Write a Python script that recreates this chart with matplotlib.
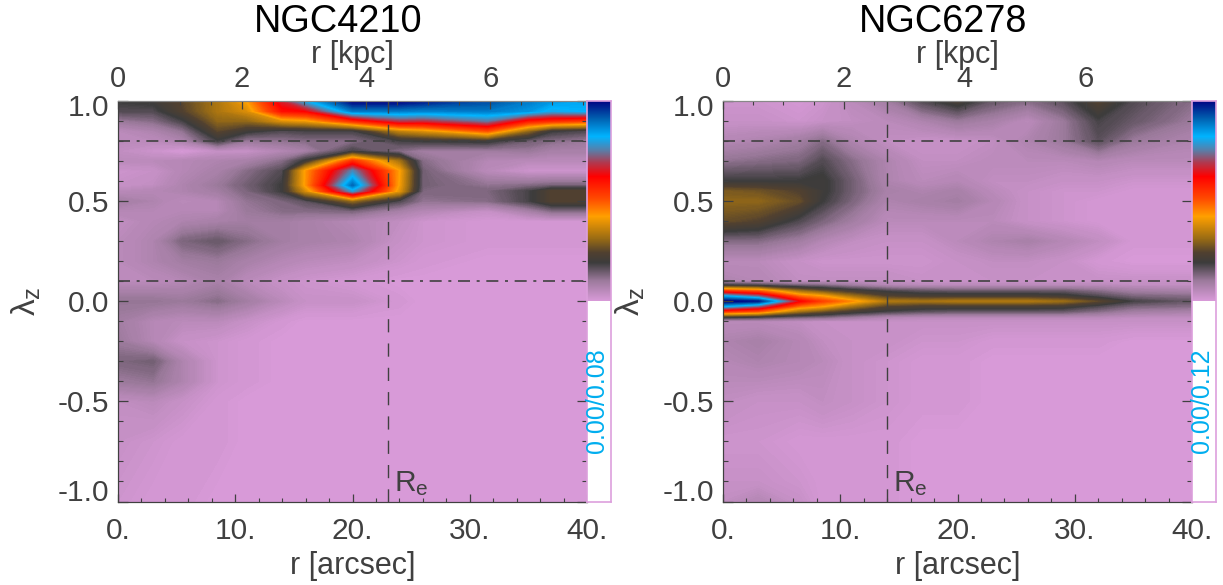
import numpy as np
import matplotlib
matplotlib.use('Agg')
import matplotlib.pyplot as plt
from matplotlib.colors import LinearSegmentedColormap

plt.rcParams['font.family'] = ['Liberation Sans', 'DejaVu Sans']
plt.rcParams['mathtext.fontset'] = 'custom'
plt.rcParams['mathtext.rm'] = 'Liberation Sans'
plt.rcParams['mathtext.it'] = 'Liberation Sans'
plt.rcParams['mathtext.fallback'] = 'stixsans'

titles = ['NGC4210', 'NGC6278']
range_labels = ['0.00/0.08', '0.00/0.12']
re_arcsec = [23.0, 14.0]
kpc_max = [7.56, 7.76]
thin_disk_limit = 0.8
hot_limit = 0.1

left_r = [0, 3, 5.5, 8.5, 11, 14, 16, 20, 24, 26, 31.5, 35, 37, 40]
left_lam = [-1, -.7, -.5, -.4, -.3, -.2, -.1, 0, .1, .2, .3, .4, .45, .5, .55, .58, .65, .7, .75, .8, .85, .9, .95, 1]
left_density = [
    [.02, .01, .01, 0, 0, 0, 0, 0, 0, 0, 0, 0, 0, 0],
    [.03, .02, .01, .01, 0, 0, 0, 0, 0, 0, 0, 0, 0, 0],
    [.04, .05, .03, .01, 0, 0, 0, 0, 0, 0, 0, 0, 0, 0],
    [.10, .11, .07, .02, .01, 0, 0, 0, 0, 0, 0, 0, 0, 0],
    [.13, .14, .07, .02, .01, 0, 0, 0, 0, 0, 0, 0, 0, 0],
    [.10, .06, .03, .02, .01, 0, 0, 0, 0, 0, 0, 0, 0, 0],
    [.09, .06, .05, .05, .03, .01, 0, 0, 0, 0, 0, 0, 0, 0],
    [.11, .11, .10, .12, .09, .05, .03, .03, .01, 0, 0, 0, 0, 0],
    [.05, .05, .06, .08, .05, .03, .02, .01, 0, 0, 0, 0, 0, 0],
    [.05, .07, .09, .10, .08, .06, .05, .04, .02, .01, 0, 0, 0, 0],
    [.05, .07, .13, .15, .12, .09, .08, .07, .03, .02, .01, .01, .01, .01],
    [.04, .06, .07, .08, .09, .09, .08, .06, .04, .02, .01, .01, .01, .01],
    [.06, .06, .06, .06, .10, .12, .12, .13, .08, .06, .03, .08, .12, .12],
    [.09, .07, .05, .06, .11, .13, .16, .30, .17, .11, .12, .18, .24, .24],
    [.05, .06, .07, .09, .13, .19, .37, .78, .39, .13, .13, .18, .24, .24],
    [.03, .04, .07, .10, .14, .19, .43, .90, .41, .14, .11, .12, .13, .13],
    [.02, .03, .06, .08, .12, .17, .43, .76, .42, .14, .05, .02, .02, .02],
    [.05, .05, .06, .07, .08, .12, .20, .55, .32, .12, .06, .05, .05, .05],
    [.04, .02, .00, .03, .03, .06, .08, .18, .12, .09, .09, .10, .08, .08],
    [.05, .05, .07, .18, .10, .11, .12, .12, .18, .19, .20, .14, .12, .10],
    [.05, .07, .11, .25, .20, .17, .18, .18, .35, .38, .50, .30, .19, .17],
    [.10, .12, .18, .30, .30, .38, .40, .55, .68, .67, .74, .58, .55, .52],
    [.17, .17, .24, .33, .38, .60, .62, .88, .88, .87, .88, .85, .80, .82],
    [.19, .20, .25, .33, .42, .66, .80, 1.0, 1.0, .98, .93, .88, .85, .83],
]

right_r = [0, 3, 6.5, 8.5, 11, 14, 17, 20, 23, 26, 29, 32, 35, 40]
right_lam = [-1, -.9, -.7, -.5, -.3, -.2, -.1, -.08, -.05, -.025, 0, .025, .05, .08, .1, .2, .3, .4, .5, .55, .6, .7, .8, .9, 1]
right_density = [
    [.04, .06, .03, .01, .01, .01, 0, 0, 0, 0, 0, 0, 0, 0],
    [.03, .03, .02, .01, .01, .01, 0, 0, 0, 0, 0, 0, 0, 0],
    [.02, .02, .01, .01, .01, .01, 0, 0, 0, 0, 0, 0, 0, 0],
    [.04, .03, .03, .04, .03, .02, .01, .01, 0, 0, 0, 0, 0, 0],
    [.06, .07, .06, .05, .03, .02, .01, .01, 0, 0, 0, 0, 0, 0],
    [.07, .08, .06, .04, .03, .03, .02, .02, .01, .01, .01, .01, 0, 0],
    [.05, .05, .04, .03, .03, .03, .03, .03, .03, .03, .03, .03, .03, .03],
    [.19, .17, .13, .12, .09, .06, .05, .05, .05, .05, .05, .05, .04, .04],
    [.55, .50, .32, .27, .22, .18, .16, .15, .15, .15, .15, .12, .09, .08],
    [.82, .72, .47, .42, .32, .24, .22, .22, .22, .22, .21, .17, .13, .12],
    [1.0, .97, .62, .52, .44, .33, .32, .33, .33, .33, .31, .25, .18, .15],
    [.82, .72, .47, .42, .32, .24, .22, .22, .22, .22, .21, .17, .13, .12],
    [.55, .50, .32, .27, .22, .18, .16, .15, .15, .15, .15, .12, .09, .08],
    [.19, .17, .13, .12, .09, .06, .05, .05, .05, .05, .05, .05, .04, .04],
    [.07, .06, .04, .04, .04, .04, .03, .03, .03, .03, .03, .03, .03, .03],
    [.05, .05, .03, .02, .02, .02, .02, .03, .04, .04, .03, .01, 0, 0],
    [.12, .12, .09, .06, .04, .03, .03, .05, .07, .08, .06, .04, .01, .01],
    [.26, .24, .17, .13, .09, .05, .05, .05, .05, .03, .02, .01, .01, .01],
    [.30, .30, .26, .19, .13, .07, .08, .09, .06, .03, .02, .01, .01, .01],
    [.28, .27, .24, .20, .14, .08, .07, .08, .05, .03, .02, .02, .01, .01],
    [.19, .19, .19, .20, .14, .07, .05, .06, .04, .04, .03, .03, .02, .02],
    [.11, .12, .13, .17, .12, .07, .04, .04, .05, .05, .05, .06, .05, .05],
    [.06, .07, .09, .12, .07, .04, .03, .03, .04, .07, .10, .16, .10, .07],
    [.03, .03, .02, .03, .04, .05, .07, .10, .08, .05, .10, .18, .15, .10],
    [.02, .02, .01, .02, .05, .09, .17, .22, .15, .12, .16, .24, .17, .12],
]

cmap = LinearSegmentedColormap.from_list('orbit', [
    (0.00, '#d89ad8'), (0.10, '#9c7a9c'), (0.19, '#3c3c3c'), (0.24, '#504030'),
    (0.31, '#9a6c14'), (0.42, '#ffa000'), (0.51, '#ff4a00'), (0.62, '#ff0000'),
    (0.69, '#b03a50'), (0.75, '#5a7ea8'), (0.82, '#00b4ff'), (0.91, '#0060b0'),
    (1.00, '#000080')])

W, H = 1223, 585
DARK = '#404040'
fig = plt.figure(figsize=(W / 100, H / 100), dpi=100)


def place(x0, x1, y0, y1):
    return fig.add_axes([x0 / W, 1 - y1 / H, (x1 - x0) / W, (y1 - y0) / H])


panels = [
    (118, left_r, left_lam, left_density, 338, 352.5, 26),
    (723, right_r, right_lam, right_density, 943, 957.5, 630),
]
for i, (x0, rr, ll, zz, title_x, label_x, lam_x) in enumerate(panels):
    ax = place(x0, x0 + 469, 101, 501.5)
    ax.contourf(rr, ll, np.array(zz), levels=np.linspace(0, 1, 301), cmap=cmap,
                vmin=0, vmax=1, extend='both', antialiased=False)
    ax.set_xlim(0, 40)
    ax.set_ylim(-1, 1)
    ax.axhline(thin_disk_limit, color=DARK, lw=1.2, dashes=(7.2, 4, 1.8, 4))
    ax.axhline(hot_limit, color=DARK, lw=1.2, dashes=(7.2, 4, 1.8, 4))
    ax.axvline(re_arcsec[i], color=DARK, lw=1.0, dashes=(9.5, 8))
    ax.set_xticks([0, 10, 20, 30, 40])
    ax.set_xticklabels(['0.', '10.', '20.', '30.', '40.'])
    ax.set_xticks(np.arange(0, 41, 2), minor=True)
    ax.set_yticks([-1, -.5, 0, .5, 1])
    ax.set_yticklabels(['', '-0.5', '0.0', '0.5', ''])
    ax.annotate('1.0', xy=(0, 1), xycoords='axes fraction', xytext=(-6.5, -5), textcoords='offset points',
                ha='right', va='center', fontsize=21.5, color=DARK, annotation_clip=False)
    ax.annotate('-1.0', xy=(0, 0), xycoords='axes fraction', xytext=(-6.5, 6), textcoords='offset points',
                ha='right', va='center', fontsize=21.5, color=DARK, annotation_clip=False)
    ax.set_yticks(np.arange(-1, 1.01, .1), minor=True)
    ax.tick_params(which='major', direction='in', length=7.2, width=0.9, color=DARK,
                   labelcolor=DARK, labelsize=21.5, right=True, pad=6.5)
    ax.tick_params(which='minor', direction='in', length=3.6, width=0.8, color=DARK, right=True)
    ax.tick_params(axis='x', which='major', length=5.8, pad=11)
    ax.tick_params(axis='x', which='minor', length=2.9)

    top = ax.twiny()
    top.set_xlim(0, kpc_max[i])
    top.set_xticks([0, 2, 4, 6])
    top.set_xticks(np.arange(0, kpc_max[i], .5), minor=True)
    top.tick_params(which='major', direction='in', length=5.8, width=0.9, color=DARK,
                    labelcolor=DARK, labelsize=21, pad=5.8)
    top.tick_params(which='minor', direction='in', length=2.9, width=0.8, color=DARK)
    for s in ('top', 'right'):
        ax.spines[s].set_color('#888888')
        top.spines[s].set_color('#888888')
    for s in ('left', 'bottom'):
        ax.spines[s].set_color(DARK)
        top.spines[s].set_color(DARK)

    fig.text(label_x / W, 1 - 566 / H, 'r [arcsec]', fontsize=22, color=DARK, ha='center', va='center')
    fig.text(label_x / W, 1 - 55 / H, 'r [kpc]', fontsize=22, color=DARK, ha='center', va='center')
    fig.text(lam_x / W, 1 - 301 / H, r'$\lambda_z$', fontsize=24, color=DARK, rotation=90, ha='center', va='center')
    fig.text(title_x / W, 1 - 22 / H, titles[i], fontsize=27.3, color='black', ha='center', va='center')
    ax.text(re_arcsec[i] + 0.5, -0.95, r'R$_{\mathrm{e}}$', fontsize=21.5, color=DARK, va='baseline', ha='left')

    cb = place(x0 + 469, x0 + 493, 101, 501.5)
    gradient = np.linspace(0, 1, 256).reshape(-1, 1)
    cb.imshow(gradient, cmap=cmap, origin='lower', aspect='auto', extent=(0, 1, 0, 1))
    cb.set_xlim(0, 1)
    cb.set_ylim(-1, 1)
    cb.set_xticks([])
    cb.set_yticks([])
    for s in cb.spines.values():
        s.set_color('#dda0dd')
        s.set_linewidth(1.2)
    cb.text(0.42, -0.495, range_labels[i], rotation=90, color='#00aeef', fontsize=18,
            ha='center', va='center')

fig.savefig('out.png', dpi=100)
